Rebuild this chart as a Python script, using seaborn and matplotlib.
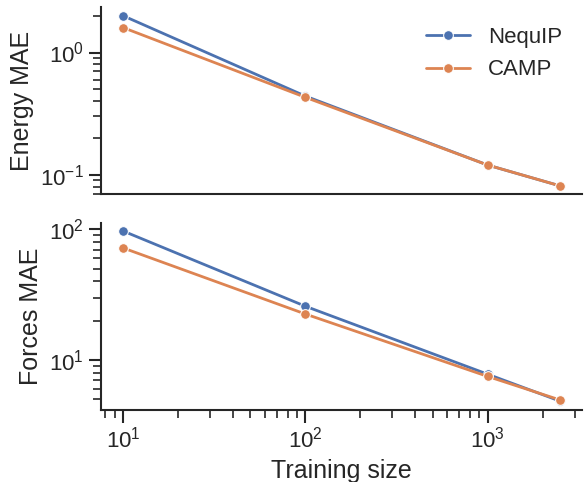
import numpy as np
import pandas as pd
import matplotlib
matplotlib.use("Agg")
import matplotlib.pyplot as plt
import seaborn as sns

training_size = [10, 100, 1000, 2500]
models = ["NequIP", "CAMP"]
energy_nequip = [2.0, 0.44, 0.12, 0.081]
energy_camp = [1.6, 0.43, 0.12, 0.081]
forces_nequip = [97, 25.8, 7.8, 4.85]
forces_camp = [72, 22.5, 7.5, 4.95]

rows = []
for model, e_vals, f_vals in [("NequIP", energy_nequip, forces_nequip),
                              ("CAMP", energy_camp, forces_camp)]:
    for n, e, f in zip(training_size, e_vals, f_vals):
        rows.append({"model": model, "size": n, "energy": e, "forces": f})
df = pd.DataFrame(rows)

sns.set_theme(style="ticks", context="talk")
plt.rcParams["font.family"] = ["Liberation Sans", "DejaVu Sans"]
plt.rcParams["axes.labelsize"] = 18
plt.rcParams["xtick.labelsize"] = 16
plt.rcParams["ytick.labelsize"] = 16
plt.rcParams["legend.fontsize"] = 16
plt.rcParams["axes.linewidth"] = 1.5
plt.rcParams["xtick.major.width"] = 1.5
plt.rcParams["ytick.major.width"] = 1.5
plt.rcParams["xtick.minor.width"] = 1.2
plt.rcParams["ytick.minor.width"] = 1.2

fig, (ax1, ax2) = plt.subplots(2, 1, figsize=(5.85, 4.82), dpi=100, sharex=True)

line_kw = dict(marker="o", markersize=7, linewidth=2.0, markeredgecolor="white")
sns.lineplot(data=df, x="size", y="energy", hue="model", hue_order=models,
             ax=ax1, **line_kw)
sns.lineplot(data=df, x="size", y="forces", hue="model", hue_order=models,
             ax=ax2, legend=False, **line_kw)

for ax in (ax1, ax2):
    ax.set_xscale("log")
    ax.set_yscale("log")
ax1.set_ylabel("Energy MAE")
ax2.set_ylabel("Forces MAE")
ax1.set_xlabel("")
ax2.set_xlabel("Training size")
ax1.tick_params(axis="x", which="both", bottom=False)
ax1.legend(title=None, frameon=False, loc="upper right")
sns.despine(fig)

fig.subplots_adjust(left=0.173, right=0.995, top=0.985, bottom=0.15, hspace=0.15)
fig.savefig("out.png", dpi=100)
